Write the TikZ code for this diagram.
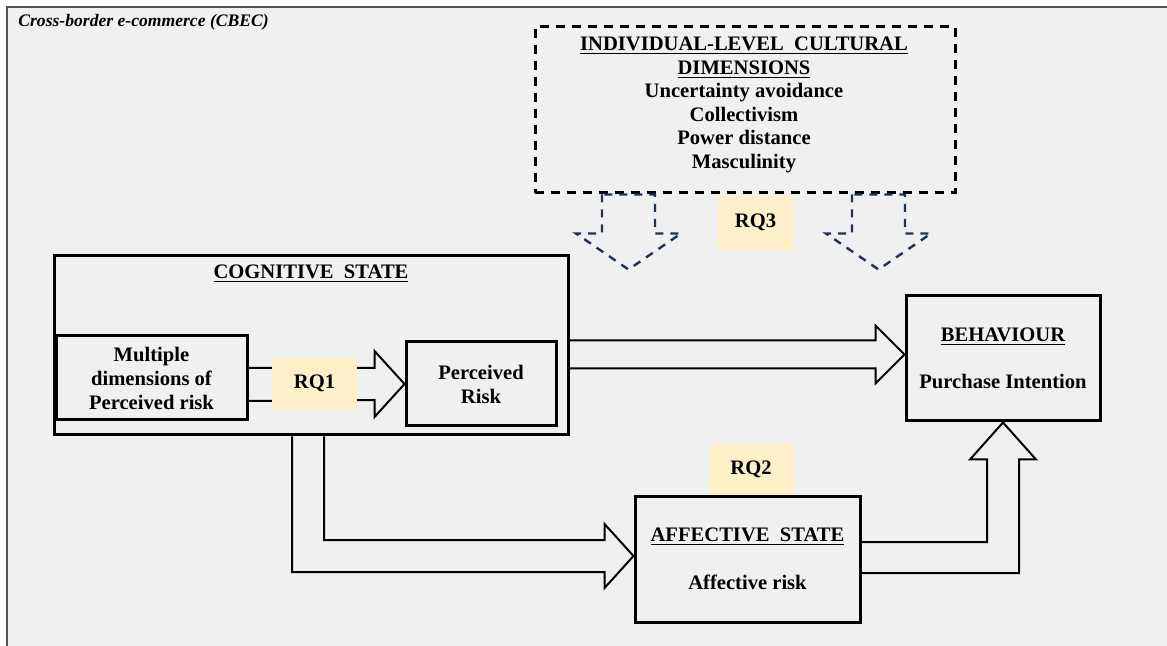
\documentclass[tikz,border=0pt]{standalone}
\usepackage{fontspec}
\setmainfont{Liberation Serif}
\usetikzlibrary{calc}
\definecolor{pagebg}{RGB}{240,240,240}
\definecolor{rqfill}{RGB}{253,239,200}
\definecolor{cultnavy}{RGB}{31,52,84}
\definecolor{framegray}{RGB}{80,80,80}
\newcommand{\bodyfont}{\fontsize{10.3}{12}\selectfont\bfseries}

\begin{document}
\begin{tikzpicture}[
    x=0.5pt,y=-0.5pt,
    box/.style={draw,line width=1.5pt,inner sep=0pt,align=center,font=\bodyfont},
    rq/.style={fill=rqfill,inner sep=0pt,minimum width=42.5pt,minimum height=26pt,font=\bodyfont},
    txt/.style={inner sep=0pt,align=center,font=\bodyfont},
    blk/.style={line width=1pt,line join=miter},
    dblk/.style={cultnavy,line width=1.2pt,dash pattern=on 4pt off 3.5pt}
]
\fill[white] (0,0) rectangle (1167,646);
\useasboundingbox (0,0) rectangle (1167,646);
\fill[pagebg] (7,7) rectangle (1167,646);
\draw[framegray,line width=1pt] (7,646) -- (7,7) -- (1167,7);

\node[anchor=west,inner sep=0pt,font=\fontsize{8.8}{10}\selectfont\bfseries\itshape] (title) at (18,22) {Cross-border e-commerce (CBEC)};

% cultural dimensions
\node[draw,line width=1.5pt,dash pattern=on 4.5pt off 3.5pt,minimum width=210pt,minimum height=83pt] (culture) at (745,110) {};
\node[txt,font=\fontsize{10.3}{11.8}\selectfont\bfseries] (culturetxt) at (744,105) {\underline{INDIVIDUAL-LEVEL~~CULTURAL}\\\underline{DIMENSIONS}\\Uncertainty avoidance\\Collectivism\\Power distance\\Masculinity};

% states
\node[box,minimum width=257pt,minimum height=89.5pt] (cog) at (311,345.5) {};
\node[txt] (cogtitle) at (311,274) {\underline{COGNITIVE~~STATE}};
\node[box,minimum width=95.5pt,minimum height=42pt] (multi) at (151.5,378) {Multiple\\dimensions of\\Perceived risk};
\node[box,minimum width=75pt,minimum height=42pt] (perc) at (481,384) {Perceived\\Risk};
\node[box,minimum width=97pt,minimum height=62.5pt] (behav) at (1003,358.5) {\underline{BEHAVIOUR}\\[11.5pt]Purchase Intention};
\node[box,minimum width=112.5pt,minimum height=63pt] (affect) at (747.5,559) {\underline{AFFECTIVE~~STATE}\\[12pt]Affective risk};

% block arrows
\coordinate (pt) at (perc.west);
\draw[blk] ($(multi.east |- pt)+(0,-16)$) -- ($(pt)+(-30,-16)$) -- ++(0,-17) -- (pt)
    -- ($(pt)+(-30,33)$) -- ++(0,-17) -- ($(multi.east |- pt)+(0,17)$);
\coordinate (bt) at ($(behav.west)+(0,-4)$);
\draw[blk] ($(cog.east |- bt)+(0,-14)$) -- ($(bt)+(-29,-14)$) -- ++(0,-15) -- (bt)
    -- ($(bt)+(-29,29)$) -- ++(0,-15) -- ($(cog.east |- bt)+(0,14)$);
\coordinate (at) at ($(affect.west)+(0,-3)$);
\draw[blk] ($(cog.south)+(13,0)$) |- ($(at)+(-29,-16)$) -- ++(0,-16) -- (at)
    -- ($(at)+(-29,32)$) -- ++(0,-16) -| ($(cog.south)+(-19,0)$);
\draw[blk] ($(affect.east)+(0,-17)$) -| ($(behav.south)+(-16,37)$) -- ++(-17,0) -- (behav.south)
    -- ($(behav.south)+(33,37)$) -- ++(-17,0) |- ($(affect.east)+(0,14)$);

% moderating arrows
\foreach \dx in {-116.5,133.5}
  \draw[dblk] ($(culture.south)+(\dx-26.5,0)$) -- ++(0,39) -- ++(-26,0) -- ($(culture.south)+(\dx,75)$)
      -- ($(culture.south)+(\dx+52.5,39)$) -- ++(-26,0) -- ($(culture.south)+(\dx+26.5,0)$) -- cycle;

% research questions
\node[rq] (rq1) at (314.5,383) {RQ1};
\node[rq] (rq2) at (751,469) {RQ2};
\node[rq,minimum width=37.5pt,minimum height=27.5pt] (rq3) at (755.5,222.5) {RQ3};
\end{tikzpicture}
\end{document}
